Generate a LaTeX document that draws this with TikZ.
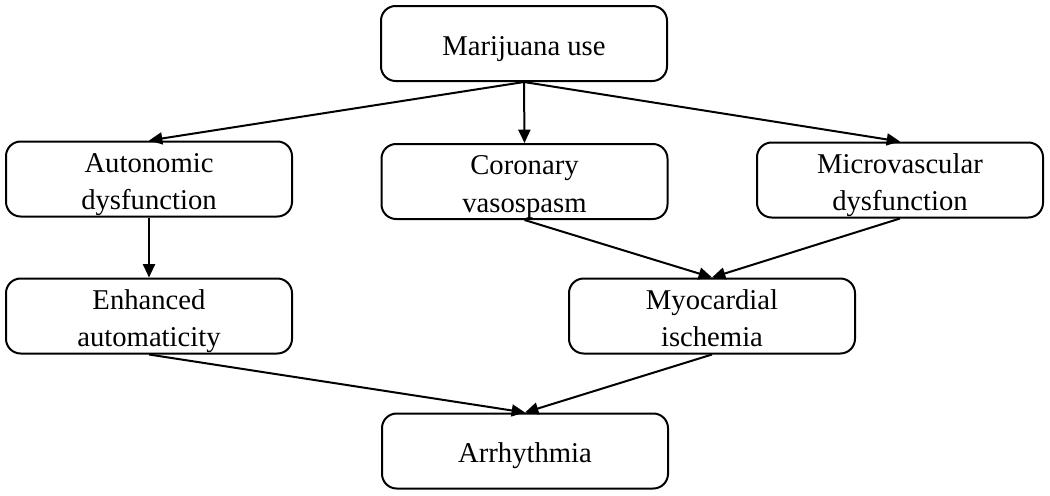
\documentclass[tikz,border=0pt]{standalone}
\usepackage{fontspec}
\setmainfont{Liberation Serif}
\usetikzlibrary{arrows.meta}
\begin{document}
\begin{tikzpicture}[x=0.75pt,y=-0.75pt,line width=1.5pt,
	every node/.style={draw,rounded corners=11pt,minimum width=214.5pt,minimum height=56.25pt,
		align=center,font=\fontsize{21.5}{28}\selectfont,text height=19pt,text depth=1.75pt},
	two/.style={text height=47pt,text depth=1.25pt},
	arr/.style={-{Triangle[length=10pt,width=9pt]}}]
	\useasboundingbox (0,0) rectangle (1050,496);
	\node (mj) at (524,43.5){Marijuana use};
	\node[two] (auto) at (149,179){Autonomic\\dysfunction};
	\node[two] (cor) at (524.5,181.5){Coronary\\vasospasm};
	\node[two] (micro) at (900,180){Microvascular\\dysfunction};
	\node[two] (enh) at (149,316){Enhanced\\automaticity};
	\node[two] (myo) at (712,316){Myocardial\\ischemia};
	\node (arrh) at (525,451){Arrhythmia};
	% \foreach \a/\b in {mj/auto,mj/cor,mj/micro}{\draw[arr] (\a.south)--(\b.north);}
	\draw[arr] (mj.south)--(auto.north);
	\draw[arr] (mj.south)--(cor.north);
	\draw[arr] (mj.south)--(micro.north);
	\draw[arr] (auto.south)--(enh.north);
	\draw[arr] (cor.south)--(myo.north);
	\draw[arr] (micro.south)--(myo.north);
	\draw[arr] (enh.south)--(arrh.north);
	\draw[arr] (myo.south)--(arrh.north);
\end{tikzpicture}
\end{document}
